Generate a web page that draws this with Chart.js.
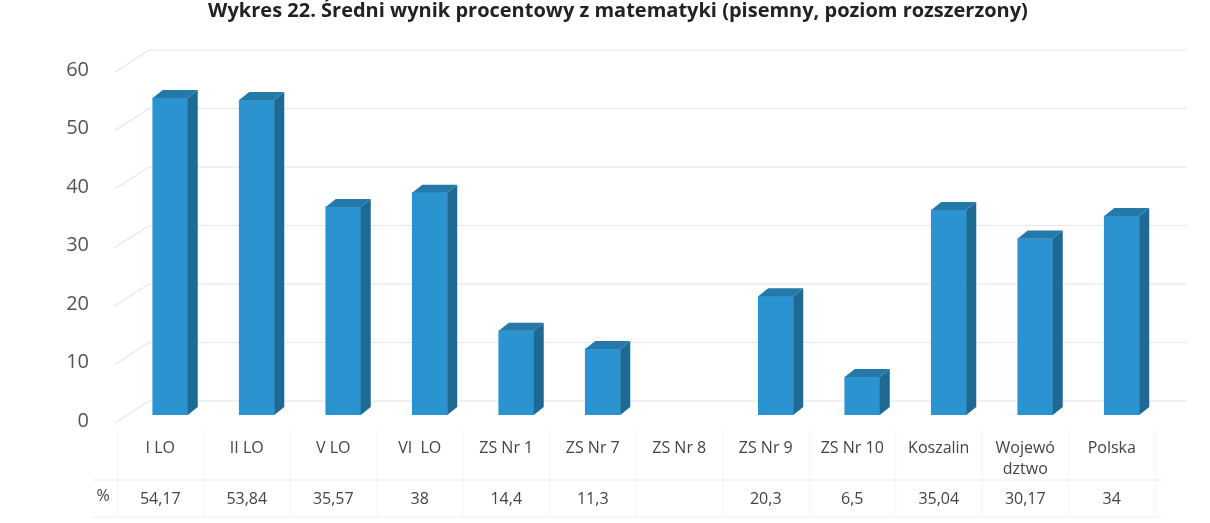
<!DOCTYPE html>
<html>
<head>
<meta charset="utf-8">
<script src="https://cdn.jsdelivr.net/npm/chart.js@4"></script>
<style>
  body { margin: 0; background: #fff; }
  #wrap { width: 1210px; height: 523px; }
</style>
</head>
<body>
<div id="wrap"><canvas id="wynik" width="1210" height="523"></canvas></div>
<script>
const title = 'Wykres 22. Średni wynik procentowy z matematyki (pisemny, poziom rozszerzony)';
const schools = ['I LO', 'II LO', 'V LO', 'VI  LO', 'ZS Nr 1', 'ZS Nr 7', 'ZS Nr 8', 'ZS Nr 9', 'ZS Nr 10', 'Koszalin', ['Wojewó', 'dztwo'], 'Polska'];
const percent = [54.17, 53.84, 35.57, 38, 14.4, 11.3, null, 20.3, 6.5, 35.04, 30.17, 34];
const yTicks = [0, 10, 20, 30, 40, 50, 60];

const font = '"Open Sans", "Noto Sans", sans-serif';
const dx = 10, dy = -8;

// tylna ściana z liniami siatki
const backGrid = {
	id: 'backGrid',
	beforeDatasetsDraw(chart) {
		const c = chart.ctx, a = chart.chartArea, y = chart.scales.y;
		c.save();
		c.strokeStyle = '#e6e6e6';
		c.lineWidth = 1.2;
		yTicks.forEach(v => {
			const py = y.getPixelForValue(v);
			c.beginPath();
			c.moveTo(a.left - 12, py + 8);
			c.lineTo(a.left + 22, py - 14);
			c.lineTo(a.right + 22, py - 14);
			c.stroke();
		});
		c.restore();
	}
};

// boki i góra słupków (efekt 3D)
const bars3d = {
	id: 'bars3d',
	afterDatasetsDraw(chart) {
		const c = chart.ctx;
		chart.getDatasetMeta(0).data.forEach((bar, i) => {
			if (percent[i] == null) return;
			const w = bar.width / 2, x = bar.x, y = bar.y, b = bar.base;
			c.save();
			c.fillStyle = '#1e6a94';
			c.beginPath();
			c.moveTo(x + w, y);
			c.lineTo(x + w + dx, y + dy);
			c.lineTo(x + w + dx, b + dy);
			c.lineTo(x + w, b);
			c.closePath();
			c.fill();
			c.fillStyle = '#2479a9';
			c.beginPath();
			c.moveTo(x - w, y);
			c.lineTo(x - w + dx, y + dy);
			c.lineTo(x + w + dx, y + dy);
			c.lineTo(x + w, y);
			c.closePath();
			c.fill();
			c.restore();
		});
	}
};

// tabela danych pod wykresem + tytuł
const dataTable = {
	id: 'dataTable',
	afterDraw(chart) {
		const c = chart.ctx, xs = chart.scales.x;
		c.save();
		c.fillStyle = '#222';
		c.font = 'bold 20px ' + font;
		c.textAlign = 'center';
		c.textBaseline = 'middle';
		c.fillText(title, 618, 11);

		c.strokeStyle = '#ededed';
		c.lineWidth = 1;
		c.beginPath();
		c.moveTo(92, 480); c.lineTo(1162, 480);
		c.moveTo(92, 517); c.lineTo(1162, 517);
		c.stroke();
		c.strokeStyle = '#f4f4f4';
		c.beginPath();
		for (let i = 0; i <= schools.length; i++) {
			const px = xs.getPixelForValue(0) - 53 + i * (xs.getPixelForValue(1) - xs.getPixelForValue(0));
			c.moveTo(px, 430); c.lineTo(px, 517);
		}
		c.stroke();

		c.fillStyle = '#444';
		c.font = '16px ' + font;
		schools.forEach((s, i) => {
			const px = xs.getPixelForValue(i) - 10;
			const lines = Array.isArray(s) ? s : [s];
			lines.forEach((t, k) => c.fillText(t, px, 448 + k * 21));
			if (percent[i] != null) c.fillText(String(percent[i]).replace('.', ','), px, 499);
		});
		c.fillText('%', 103, 496);
		c.restore();
	}
};

new Chart(document.getElementById('wynik'), {
	type: 'bar',
	data: {
		labels: schools,
		datasets: [{
			label: '%',
			data: percent,
			backgroundColor: '#2b93cf',
			barThickness: 35
		}]
	},
	options: {
		responsive: false,
		animation: false,
		layout: { padding: { top: 64, bottom: 108, right: 45, left: 0 } },
		plugins: {
			legend: { display: false },
			tooltip: { enabled: false }
		},
		scales: {
			x: { display: false },
			y: {
				min: 0,
				max: 60,
				afterFit(s) { s.width = 127; },
				border: { display: false },
				grid: { display: false },
				ticks: {
					stepSize: 10,
					padding: 30,
					labelOffset: 6,
					color: '#555',
					font: { family: font, size: 20 }
				}
			}
		}
	},
	plugins: [backGrid, bars3d, dataTable]
});
</script>
</body>
</html>
